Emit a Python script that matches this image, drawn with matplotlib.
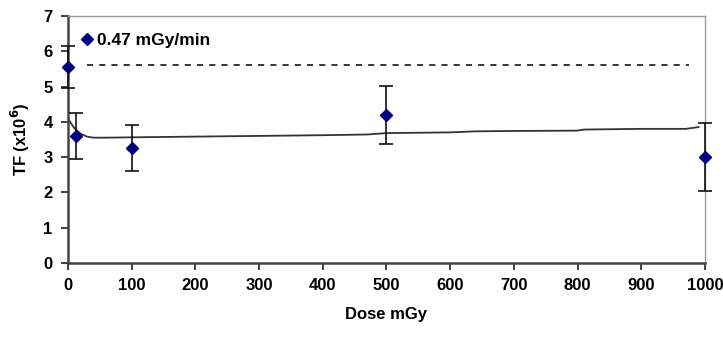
import matplotlib
matplotlib.use("Agg")
import matplotlib.pyplot as plt
from matplotlib.lines import Line2D

# Data
dose = [0, 13, 100, 500, 1000]
tf = [5.55, 3.6, 3.25, 4.2, 3.0]
tf_err = [0.6, 0.65, 0.65, 0.82, 0.97]

fit_x = [0, 5, 10, 20, 30, 40, 60, 100, 200, 300, 400, 470, 500, 600, 640, 700, 800, 810, 900, 970, 990]
fit_y = [4.1, 3.95, 3.82, 3.66, 3.58, 3.55, 3.55, 3.56, 3.58, 3.6, 3.62, 3.64, 3.68, 3.7, 3.73, 3.74, 3.75, 3.78, 3.8, 3.8, 3.85]

dash_x = [30, 975]
dash_y = [5.6, 5.6]

series_label = "0.47 mGy/min"
xticks = list(range(0, 1001, 100))
yticks = list(range(0, 8))

plt.rcParams['font.family'] = ['Liberation Sans', 'DejaVu Sans']
plt.rcParams['font.weight'] = 'bold'

fig = plt.figure(figsize=(7.23, 3.37), dpi=100)
ax = fig.add_axes([0.094, 0.22, 0.881, 0.7325])

ax.plot(fit_x, fit_y, color='#333333', lw=1.3, zorder=2)
ax.plot(dash_x, dash_y, color='black', lw=1.1, ls=(0, (4, 4)), zorder=2)
ax.errorbar(dose, tf, yerr=tf_err, fmt='D', color='#000080', ms=6.5,
            ecolor='#111111', elinewidth=1.2, capsize=5, capthick=1.2,
            zorder=3, clip_on=False)

ax.set_xlim(0, 1000)
ax.set_ylim(0, 7)
ax.set_xticks(xticks)
ax.set_yticks(yticks)
ax.tick_params(axis='both', direction='out', length=5, width=1.3, colors='#333333',
               labelsize=12, labelcolor='black', pad=6)
for lab in ax.get_xticklabels() + ax.get_yticklabels():
    lab.set_fontweight('bold')

for s in ['left', 'bottom']:
    ax.spines[s].set_color('#444444')
    ax.spines[s].set_linewidth(1.8)
for s in ['top', 'right']:
    ax.spines[s].set_color('#999999')
    ax.spines[s].set_linewidth(1.0)

ax.set_xlabel('Dose mGy', fontsize=12, fontweight='bold', labelpad=10)
ax.set_ylabel(r'TF (x10$^\mathbf{6}$)', fontsize=12, fontweight='bold', labelpad=8)

proxy = Line2D([], [], ls='none', marker='D', color='#000080', ms=6.5)
ax.legend([proxy], [series_label], loc='upper left', frameon=False, fontsize=12.5,
          handlelength=0.6, handletextpad=0.3, borderaxespad=0.2,
          bbox_to_anchor=(0.005, 0.975))

fig.savefig('out.png', dpi=100)
